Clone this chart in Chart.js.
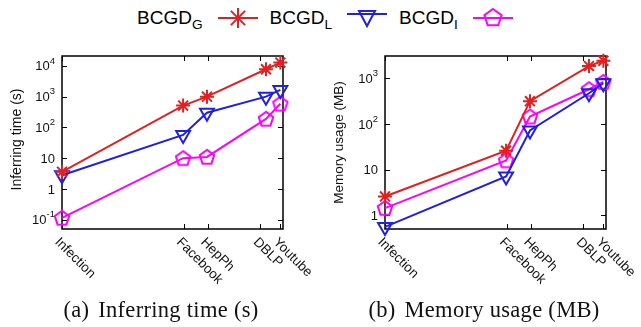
<!DOCTYPE html>
<html>
<head>
<meta charset="utf-8">
<script src="https://cdn.jsdelivr.net/npm/chart.js@4.4.1/dist/chart.umd.min.js"></script>
<style>
  body { margin: 0; width: 641px; height: 327px; background: #fff; position: relative; overflow: hidden;
         font-family: "Liberation Sans", Arial, sans-serif; }
  #legend { position: absolute; top: 5px; left: 137px; height: 26px; display: flex; align-items: center;
            font-size: 19px; color: #000; white-space: nowrap; }
  #legend sub { font-size: 0.72em; vertical-align: -0.35em; line-height: 0; }
  #legend svg { margin: 0 12px 0 15px; }
  .pane { position: absolute; top: 0; }
  .caption { position: absolute; top: 297px; width: 300px; text-align: center;
             font-family: "Liberation Serif", "DejaVu Serif", serif; font-size: 22.5px; letter-spacing: 0.3px; color: #111; }
  .caption span { margin-right: 3px; }
</style>
</head>
<body>
<div id="legend">
  <span>BCGD<sub>G</sub></span>
  <svg width="40" height="24" viewBox="0 0 40 24">
    <g stroke="#e41f1f" stroke-width="2" fill="none">
      <line x1="0" y1="12" x2="40" y2="12"/>
      <line x1="20" y1="2" x2="20" y2="22"/>
      <line x1="12.9" y1="4.9" x2="27.1" y2="19.1"/>
      <line x1="12.9" y1="19.1" x2="27.1" y2="4.9"/>
    </g>
  </svg>
  <span>BCGD<sub>L</sub></span>
  <svg width="40" height="24" viewBox="0 0 40 24">
    <g stroke="#1f1fe8" stroke-width="2" fill="none">
      <line x1="0" y1="8" x2="40" y2="8"/>
      <polygon points="12,5 28,5 20,20"/>
    </g>
  </svg>
  <span>BCGD<sub>I</sub></span>
  <svg width="40" height="24" viewBox="0 0 40 24">
    <g stroke="#ff00ff" stroke-width="2" fill="none">
      <line x1="0" y1="12" x2="40" y2="12"/>
      <polygon points="20,3 28.6,9.2 25.3,19.3 14.7,19.3 11.4,9.2"/>
    </g>
  </svg>
</div>

<div class="pane" style="left:0"><canvas id="timeChart" width="320" height="327"></canvas></div>
<div class="pane" style="left:320px"><canvas id="memChart" width="321" height="327"></canvas></div>

<div class="caption" style="left:11px"><span>(a)</span> Inferring time (s)</div>
<div class="caption" style="left:334px"><span>(b)</span> Memory usage (MB)</div>

<script>
// datasets along the x axis and where they sit on it (0..100)
var graphs = ["Infection", "Facebook", "HepPh", "DBLP", "Youtube"];
var graphX = [0, 54.8, 65.6, 92.3, 98.8];
var graphTickX = [0, 55, 66, 89.8, 98.8];

// inferring time (s)
var timeG = [3.6, 515, 1000, 7800, 12800];
var timeL = [2.8, 57, 300, 1000, 1660];
var timeI = [0.115, 10, 11, 190, 590];

// memory usage (MB)
var memG = [2.6, 26, 316, 1850, 2420];
var memL = [0.56, 7.1, 72, 470, 780];
var memI = [1.45, 16, 145, 575, 830];

// y tick values, labels as [base, exponent]
var timeTicks = [0.1, 1, 10, 100, 1000, 10000];
var timeTickLabels = [["10", "-1"], ["1", ""], ["10", ""], ["10", "2"], ["10", "3"], ["10", "4"]];
var memTicks = [1, 10, 100, 1000];
var memTickLabels = [["1", ""], ["10", ""], ["10", "2"], ["10", "3"]];

var RED = "#e41f1f", BLUE = "#1f1fe8", MAGENTA = "#ff00ff";

// open pentagon marker
function pentagon(color) {
  var c = document.createElement("canvas");
  c.width = 20; c.height = 20;
  var g = c.getContext("2d");
  g.strokeStyle = color;
  g.lineWidth = 2;
  g.beginPath();
  for (var i = 0; i < 5; i++) {
    var ang = -Math.PI / 2 + i * 2 * Math.PI / 5;
    var px = 10 + 7.6 * Math.cos(ang), py = 10.5 + 7.6 * Math.sin(ang);
    if (i == 0) g.moveTo(px, py); else g.lineTo(px, py);
  }
  g.closePath();
  g.stroke();
  return c;
}
var penta = pentagon(MAGENTA);

function pts(vals) {
  return vals.map(function (v, i) { return { x: graphX[i], y: v }; });
}

// gnuplot style box, inward ticks and rotated labels
var gnuAxes = {
  id: "gnuAxes",
  beforeDatasetsDraw: function (chart, args, opts) {
    var ctx = chart.ctx, a = chart.chartArea, xs = chart.scales.x, ys = chart.scales.y;
    ctx.save();
    ctx.strokeStyle = "#000";
    ctx.lineWidth = 1;
    ctx.beginPath();
    opts.yTicks.forEach(function (v) {
      var y = Math.round(ys.getPixelForValue(v)) + 0.5;
      ctx.moveTo(a.left, y); ctx.lineTo(a.left + 5, y);
      ctx.moveTo(a.right, y); ctx.lineTo(a.right - 5, y);
    });
    graphTickX.forEach(function (v) {
      var x = Math.round(xs.getPixelForValue(v)) + 0.5;
      ctx.moveTo(x, a.bottom); ctx.lineTo(x, a.bottom - 5);
      ctx.moveTo(x, a.top); ctx.lineTo(x, a.top + 5);
    });
    ctx.stroke();
    ctx.lineWidth = 1.5;
    ctx.strokeRect(a.left, a.top, a.right - a.left, a.bottom - a.top);

    // y tick labels
    ctx.fillStyle = "#111";
    ctx.textBaseline = "middle";
    opts.yTicks.forEach(function (v, i) {
      var y = ys.getPixelForValue(v);
      var base = opts.yLabels[i][0], exp = opts.yLabels[i][1];
      var right = a.left - 7;
      ctx.font = "9.5px 'Liberation Sans', Arial, sans-serif";
      var ew = exp ? ctx.measureText(exp).width : 0;
      if (exp) { ctx.textAlign = "right"; ctx.fillText(exp, right, y - 5); }
      ctx.font = "13px 'Liberation Sans', Arial, sans-serif";
      ctx.textAlign = "right";
      ctx.fillText(base, right - ew, y + 1);
    });

    // x tick labels, rotated down-right
    ctx.font = "13.5px 'Liberation Sans', Arial, sans-serif";
    ctx.textAlign = "left";
    graphTickX.forEach(function (v, i) {
      var x = xs.getPixelForValue(v);
      ctx.save();
      ctx.translate(x - 5, a.bottom + 11);
      ctx.rotate(Math.PI / 4);
      ctx.fillText(graphs[i], 0, 0);
      ctx.restore();
    });

    // y title
    ctx.font = opts.titleSize + "px 'Liberation Sans', Arial, sans-serif";
    ctx.textAlign = "center";
    ctx.save();
    ctx.translate(opts.titleX, (a.top + a.bottom) / 2 + opts.titleDy);
    ctx.rotate(-Math.PI / 2);
    ctx.fillText(opts.yTitle, 0, 0);
    ctx.restore();
    ctx.restore();
  }
};

function makeChart(id, g, l, ii, yMin, yMax, pad, axes) {
  var common = { showLine: true, borderWidth: 2, clip: false, fill: false };
  return new Chart(document.getElementById(id), {
    type: "scatter",
    data: {
      datasets: [
        Object.assign({ label: "BCGD_G", data: pts(g), borderColor: RED, pointBorderColor: RED,
          pointBackgroundColor: "rgba(0,0,0,0)", pointStyle: "star", pointRadius: 7, pointBorderWidth: 2 }, common),
        Object.assign({ label: "BCGD_L", data: pts(l), borderColor: BLUE, pointBorderColor: BLUE,
          pointBackgroundColor: "rgba(0,0,0,0)", pointStyle: "triangle", rotation: 180, pointRadius: 8, pointBorderWidth: 2 }, common),
        Object.assign({ label: "BCGD_I", data: pts(ii), borderColor: MAGENTA, pointBorderColor: MAGENTA,
          pointStyle: penta, pointRadius: 8 }, common)
      ]
    },
    options: {
      responsive: false,
      animation: false,
      events: [],
      layout: { padding: pad },
      plugins: { legend: { display: false }, tooltip: { enabled: false }, gnuAxes: axes },
      scales: {
        x: { type: "linear", display: false, min: 0, max: 100 },
        y: { type: "logarithmic", display: false, min: yMin, max: yMax }
      }
    },
    plugins: [gnuAxes]
  });
}

makeChart("timeChart", timeG, timeL, timeI, 0.05, 21000,
  { left: 62, top: 56, right: 37, bottom: 98 },
  { yTicks: timeTicks, yLabels: timeTickLabels, yTitle: "Inferring time (s)", titleX: 17, titleDy: -3, titleSize: 14 });

makeChart("memChart", memG, memL, memI, 0.505, 3070,
  { left: 65, top: 56, right: 35, bottom: 98 },
  { yTicks: memTicks, yLabels: memTickLabels, yTitle: "Memory usage (MB)", titleX: 19, titleDy: 0, titleSize: 13.5 });
</script>
</body>
</html>
